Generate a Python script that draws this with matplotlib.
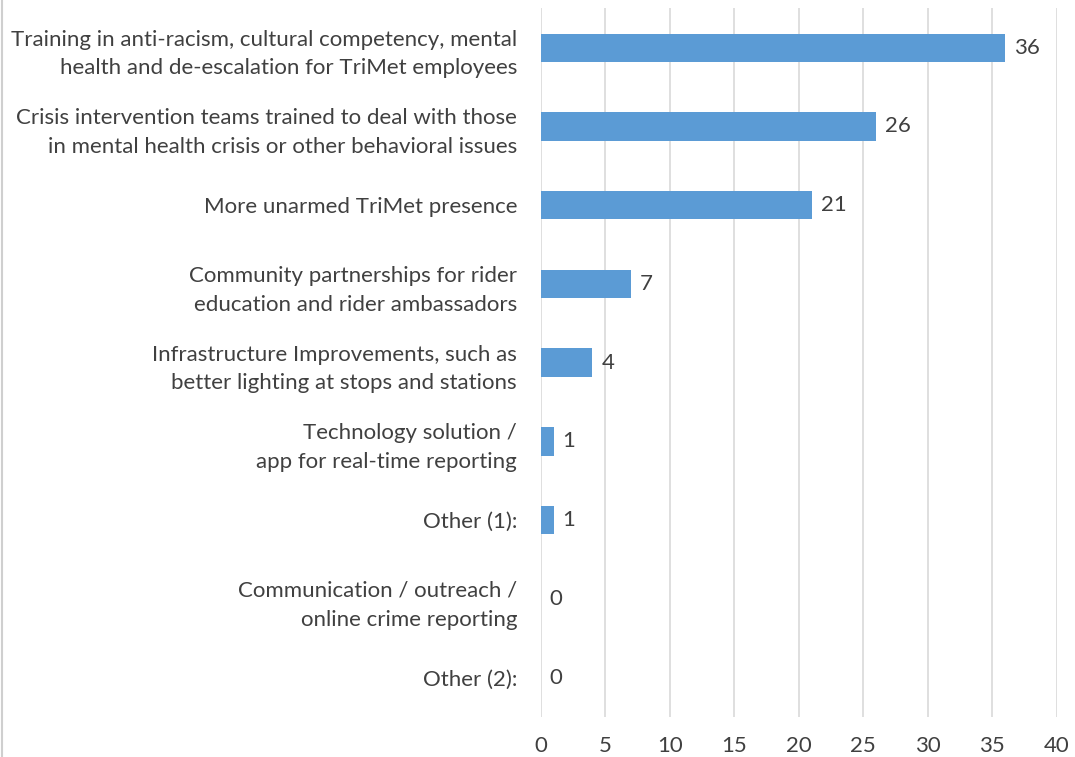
import matplotlib
matplotlib.use("Agg")
import matplotlib.pyplot as plt
from matplotlib.lines import Line2D

# survey responses, top to bottom
labels = [
    "Training in anti-racism, cultural competency, mental\nhealth and de-escalation for TriMet employees",
    "Crisis intervention teams trained to deal with those\nin mental health crisis or other behavioral issues",
    "More unarmed TriMet presence",
    "Community partnerships for rider\neducation and rider ambassadors",
    "Infrastructure Improvements, such as\nbetter lighting at stops and stations",
    "Technology solution /\napp for real-time reporting",
    "Other (1):",
    "Communication / outreach /\nonline crime reporting",
    "Other (2):",
]
counts = [36, 26, 21, 7, 4, 1, 1, 0, 0]
xticks = [0, 5, 10, 15, 20, 25, 30, 35, 40]

plt.rcParams['font.family'] = ['Lato', 'DejaVu Sans']
txt = '#404040'

fig = plt.figure(figsize=(10.75, 7.57), dpi=100)
ax = fig.add_axes([0.503, 0.053, 0.48, 0.936])

pos = list(range(len(counts)))
ax.barh(pos, counts, height=0.36, color='#5B9BD5', zorder=3)
for y, v in zip(pos, counts):
    ax.text(v + 0.7, y, str(v), va='center', ha='left', fontsize=16, color=txt)

ax.set_ylim(len(counts) - 0.5, -0.5)
ax.set_xlim(0, 40)
ax.set_xticks(xticks)
ax.set_yticks(pos)
ax.set_yticklabels(labels, fontsize=16, color=txt, linespacing=1.55)
ax.tick_params(axis='y', length=0, pad=17)
ax.tick_params(axis='x', length=0, pad=14, labelsize=16, labelcolor=txt)
ax.grid(axis='x', color='#D9D9D9', linewidth=1.2, zorder=0)
for s in ax.spines.values():
    s.set_visible(False)

fig.add_artist(Line2D([0.002, 0.002], [0, 1], color='#CFCFCF', linewidth=1.5))

fig.savefig("out.png", dpi=100, facecolor='white')
